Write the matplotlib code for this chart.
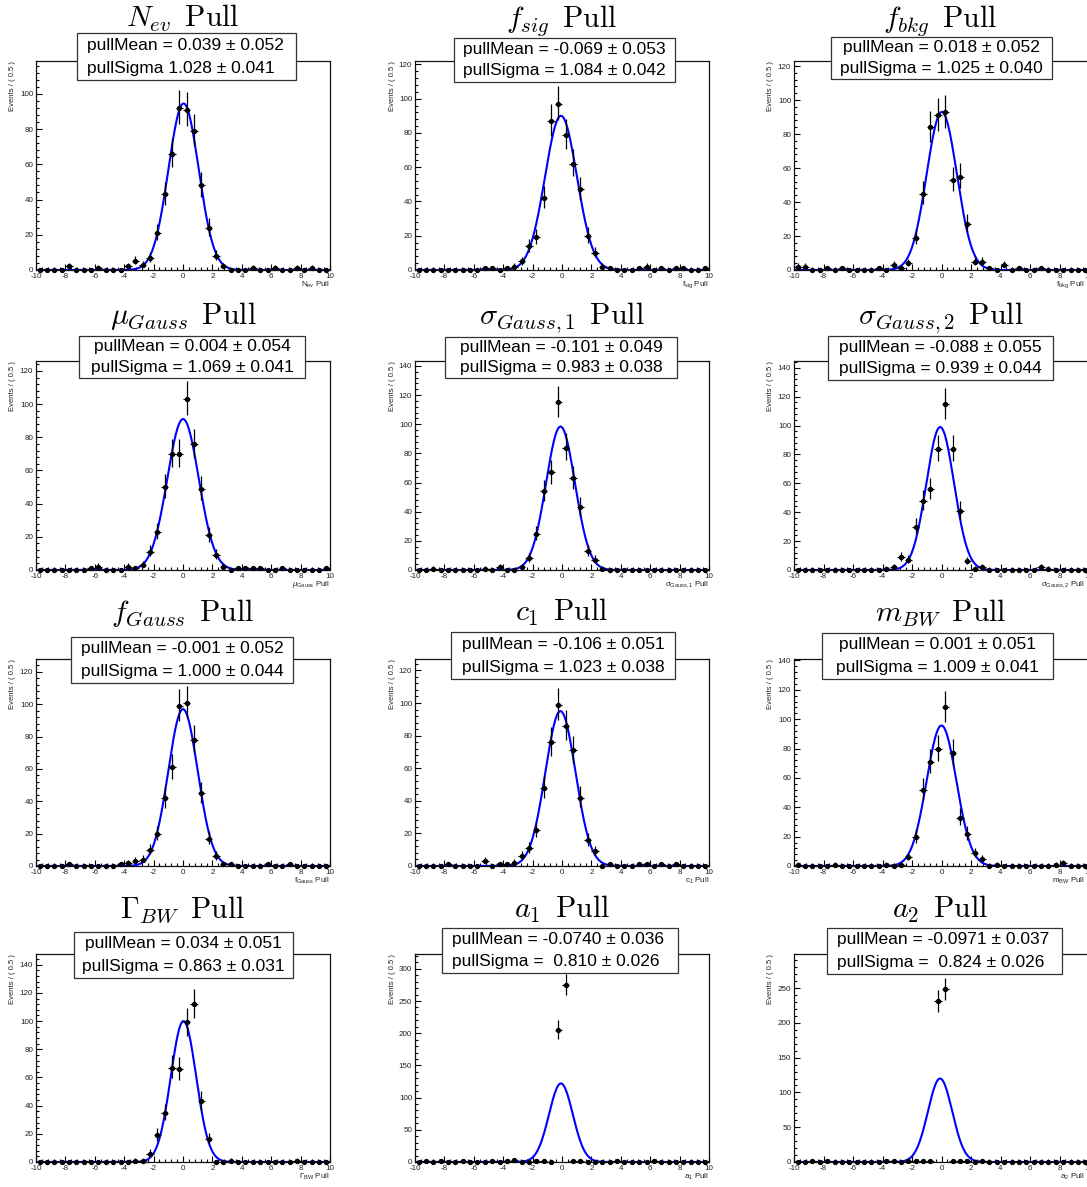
import numpy as np
import matplotlib
matplotlib.use("Agg")
import matplotlib.pyplot as plt
from matplotlib.patches import Rectangle
from matplotlib.ticker import MultipleLocator

plt.rcParams['font.family'] = ['Liberation Sans', 'DejaVu Sans']
plt.rcParams['mathtext.fontset'] = 'custom'
plt.rcParams['mathtext.rm'] = 'Liberation Sans'
plt.rcParams['mathtext.it'] = 'Liberation Sans:italic'
plt.rcParams['mathtext.bf'] = 'Liberation Sans:bold'
plt.rcParams['axes.unicode_minus'] = False

# bin centres of the pull histograms (40 bins of 0.5 from -10 to 10)
bin_centers = np.arange(-9.75, 10, 0.5)

# counts per bin
counts_nev = [0, 0, 0, 0, 2, 0, 0, 0, 1, 0, 0, 0, 2, 5, 3, 7, 21, 43, 66, 92,
              91, 79, 48, 24, 8, 2, 0, 0, 0, 1, 0, 0, 1, 0, 0, 1, 0, 1, 0, 0]
counts_fsig = [0, 0, 0, 0, 0, 0, 0, 0, 0, 1, 1, 0, 1, 2, 5, 14, 19, 42, 87, 97,
               79, 62, 47, 20, 10, 2, 1, 0, 0, 0, 1, 2, 0, 1, 0, 1, 1, 0, 0, 1]
counts_fbkg = [2, 2, 0, 0, 1, 0, 1, 0, 0, 0, 0, 1, 0, 3, 1, 4, 19, 45, 84, 91,
               93, 53, 55, 27, 5, 5, 1, 0, 3, 0, 1, 0, 0, 1, 0, 0, 0, 0, 0, 0]
counts_mu = [0, 0, 0, 0, 0, 0, 0, 1, 2, 0, 0, 0, 2, 1, 3, 11, 23, 50, 70, 70,
             103, 76, 49, 21, 9, 2, 0, 1, 1, 1, 1, 0, 0, 1, 0, 0, 0, 0, 0, 1]
counts_sig1 = [0, 0, 1, 0, 0, 0, 0, 0, 0, 1, 0, 2, 0, 0, 2, 8, 25, 54, 67, 115,
               84, 63, 43, 13, 7, 1, 0, 0, 0, 0, 0, 0, 0, 0, 0, 0, 0, 0, 0, 0]
counts_sig2 = [0, 0, 0, 0, 0, 0, 0, 0, 0, 0, 0, 0, 1, 2, 9, 7, 30, 48, 56, 84,
               115, 84, 41, 6, 1, 2, 0, 0, 0, 0, 0, 0, 0, 2, 1, 0, 0, 0, 0, 0]
counts_fgauss = [0, 0, 0, 0, 1, 0, 0, 0, 0, 0, 0, 1, 2, 3, 4, 10, 20, 42, 61, 99,
                 101, 78, 45, 17, 6, 1, 1, 0, 0, 0, 0, 1, 0, 0, 1, 0, 0, 0, 0, 0]
counts_c1 = [0, 0, 0, 0, 1, 0, 0, 0, 0, 3, 0, 1, 1, 2, 6, 11, 22, 48, 76, 99,
             86, 71, 42, 16, 9, 0, 1, 0, 0, 0, 1, 1, 0, 1, 0, 1, 0, 0, 0, 0]
counts_mbw = [1, 0, 0, 0, 0, 1, 0, 0, 0, 0, 0, 0, 1, 0, 1, 6, 20, 52, 71, 80,
              108, 77, 33, 22, 9, 5, 0, 1, 0, 0, 0, 0, 0, 0, 0, 1, 2, 0, 0, 0]
counts_gbw = [0, 0, 0, 0, 0, 0, 0, 0, 0, 0, 0, 0, 0, 1, 1, 6, 19, 35, 67, 66,
              99, 112, 43, 16, 0, 0, 1, 0, 0, 0, 0, 0, 0, 0, 0, 1, 0, 0, 0, 0]
counts_a1 = [0, 1, 0, 1, 0, 0, 1, 0, 0, 0, 1, 0, 1, 3, 0, 0, 1, 1, 0, 205,
             275, 1, 1, 0, 0, 0, 0, 1, 0, 0, 0, 0, 1, 0, 0, 0, 0, 0, 0, 0]
counts_a2 = [0, 0, 1, 0, 1, 0, 0, 0, 0, 0, 0, 0, 1, 2, 0, 1, 1, 1, 1, 231,
             248, 1, 1, 1, 0, 1, 0, 0, 0, 0, 0, 0, 0, 0, 0, 0, 0, 0, 0, 0]

all_counts = [counts_nev, counts_fsig, counts_fbkg, counts_mu, counts_sig1, counts_sig2,
              counts_fgauss, counts_c1, counts_mbw, counts_gbw, counts_a1, counts_a2]

titles = [r'$N_{ev}\ \,\mathrm{Pull}$', r'$f_{sig}\ \,\mathrm{Pull}$', r'$f_{bkg}\ \,\mathrm{Pull}$',
          r'$\mu_{Gauss}\ \,\mathrm{Pull}$', r'$\sigma_{Gauss,1}\ \,\mathrm{Pull}$',
          r'$\sigma_{Gauss,2}\ \,\mathrm{Pull}$', r'$f_{Gauss}\ \,\mathrm{Pull}$',
          r'$c_1\ \,\mathrm{Pull}$', r'$m_{BW}\ \,\mathrm{Pull}$', r'$\Gamma_{BW}\ \,\mathrm{Pull}$',
          r'$a_1\ \,\mathrm{Pull}$', r'$a_2\ \,\mathrm{Pull}$']
xlabels = [r'N$_{\mathrm{ev}}$ Pull', r'f$_{\mathrm{sig}}$ Pull', r'f$_{\mathrm{bkg}}$ Pull',
           r'$\mu_{\mathrm{Gauss}}$ Pull', r'$\sigma_{\mathrm{Gauss,1}}$ Pull',
           r'$\sigma_{\mathrm{Gauss,2}}$ Pull', r'f$_{\mathrm{Gauss}}$ Pull', r'c$_{\mathrm{1}}$ Pull',
           r'm$_{\mathrm{BW}}$ Pull', r'$\Gamma_{\mathrm{BW}}$ Pull', r'a$_{\mathrm{1}}$ Pull',
           r'a$_{\mathrm{2}}$ Pull']

# fit results shown in the boxes
pull_mean = [0.039, -0.069, 0.018, 0.004, -0.101, -0.088, -0.001, -0.106, 0.001, 0.034, -0.0740, -0.0971]
pull_sigma = [1.028, 1.084, 1.025, 1.069, 0.983, 0.939, 1.000, 1.023, 1.009, 0.863, 0.810, 0.824]
mean_lines = ['pullMean = 0.039 ± 0.052', 'pullMean = -0.069 ± 0.053', 'pullMean = 0.018 ± 0.052',
              'pullMean = 0.004 ± 0.054', 'pullMean = -0.101 ± 0.049', 'pullMean = -0.088 ± 0.055',
              'pullMean = -0.001 ± 0.052', 'pullMean = -0.106 ± 0.051', 'pullMean = 0.001 ± 0.051',
              'pullMean = 0.034 ± 0.051', 'pullMean = -0.0740 ± 0.036', 'pullMean = -0.0971 ± 0.037']
sigma_lines = ['pullSigma 1.028 ± 0.041', 'pullSigma = 1.084 ± 0.042', 'pullSigma = 1.025 ± 0.040',
               'pullSigma = 1.069 ± 0.041', 'pullSigma = 0.983 ± 0.038', 'pullSigma = 0.939 ± 0.044',
               'pullSigma = 1.000 ± 0.044', 'pullSigma = 1.023 ± 0.038', 'pullSigma = 1.009 ± 0.041',
               'pullSigma = 0.863 ± 0.031', 'pullSigma =  0.810 ± 0.026', 'pullSigma =  0.824 ± 0.026']
# peak height of the blue fitted curve
curve_peak = [94.5, 90, 93, 91, 98.4, 99, 97, 95, 95.7, 100, 122, 120]
y_top = [118.6, 122, 123, 126, 143.4, 144.7, 128, 127, 141, 147.6, 323, 299]
y_step = [20, 20, 20, 20, 20, 20, 20, 20, 20, 20, 50, 50]

# layout in pixels
W, H = 1087, 1187
col_left = [36, 415, 794]
col_right = [330, 709, 1089]
row_top = [61, 361, 659, 954]
row_bottom = [270, 570, 866, 1162]
title_base = [27, 324, 621, 918]
boxes = [(77, 296, 33, 80), (454, 675, 38, 82), (831, 1052, 37, 79),
         (79, 305, 336, 378), (445, 677, 337, 378), (828, 1053, 336, 380),
         (71, 293, 637, 683), (451, 675, 632, 679), (822, 1053, 633, 679),
         (74, 293, 932, 978), (442, 678, 928, 973), (827, 1062, 928, 974)]
left_aligned = [0, 10, 11]

fig = plt.figure(figsize=(W / 100, H / 100), dpi=100)

x_curve = np.linspace(-10, 10, 1001)

for k in range(12):
    r, c = k // 3, k % 3
    l, rr = col_left[c], col_right[c]
    t, b = row_top[r], row_bottom[r]
    ax = fig.add_axes([l / W, 1 - b / H, (rr - l) / W, (b - t) / H])

    n = np.array(all_counts[k], dtype=float)
    lo = n - (np.sqrt(n + 0.25) - 0.5) ** 2
    hi = (np.sqrt(n + 0.25) + 0.5) ** 2 - n

    y_curve = curve_peak[k] * np.exp(-0.5 * ((x_curve - pull_mean[k]) / pull_sigma[k]) ** 2)
    ax.plot(x_curve, y_curve, color='#0000ff', lw=1.5, zorder=2)

    eb = ax.errorbar(bin_centers, n, xerr=0.25, yerr=[lo, hi], fmt='o', color='black',
                     ms=2.8, elinewidth=0.9, capsize=0, zorder=3)
    eb.lines[0].set_clip_on(False)

    ax.set_xlim(-10, 10)
    ax.set_ylim(0, y_top[k])
    ax.xaxis.set_major_locator(MultipleLocator(2))
    ax.xaxis.set_minor_locator(MultipleLocator(0.4))
    ax.yaxis.set_major_locator(MultipleLocator(y_step[k]))
    ax.yaxis.set_minor_locator(MultipleLocator(y_step[k] / 5))
    ax.tick_params(which='both', direction='in', top=False, right=False,
                   labelsize=5.8, labelcolor='#222222', pad=2, width=0.8)
    ax.tick_params(which='major', length=4.5)
    ax.tick_params(which='minor', length=2.5)
    for sp in ax.spines.values():
        sp.set_linewidth(0.9)
        sp.set_color('#111111')

    # x label right-aligned at the axis end (kept inside the figure on the right column)
    if c < 2:
        ax.annotate(xlabels[k], xy=(1, 0), xycoords='axes fraction', xytext=(0, -15),
                    textcoords='offset pixels', ha='right', va='center', fontsize=5.8, color='#222222')
    else:
        fig.text(1085 / W, 1 - (b + 15) / H, xlabels[k], ha='right', va='center',
                 fontsize=5.8, color='#222222')
    ax.annotate('Events / ( 0.5 )', xy=(0, 1), xycoords='axes fraction', xytext=(-23, 0),
                textcoords='offset pixels', ha='center', va='top', rotation=90,
                fontsize=5.5, color='#222222')

    # title
    xc = (l + rr) / 2 if c < 2 else (l + 1087) / 2
    fig.text(xc / W, 1 - title_base[r] / H, titles[k], ha='center', va='baseline',
             fontsize=21.5, math_fontfamily='cm')

    # stats box
    x0, x1, y0, y1 = boxes[k]
    fig.add_artist(Rectangle((x0 / W, 1 - y1 / H), (x1 - x0) / W, (y1 - y0) / H,
                             transform=fig.transFigure, facecolor='white',
                             edgecolor='#333333', lw=0.9, zorder=5))
    if k in left_aligned:
        tx, ha = (x0 + 10) / W, 'left'
    else:
        tx, ha = (x0 + x1) / 2 / W, 'center'
    fig.text(tx, 1 - (y0 + 0.26 * (y1 - y0)) / H, mean_lines[k], ha=ha, va='center',
             fontsize=12.5, zorder=6)
    fig.text(tx, 1 - (y0 + 0.75 * (y1 - y0)) / H, sigma_lines[k], ha=ha, va='center',
             fontsize=12.5, zorder=6)

fig.savefig('out.png', dpi=100)
